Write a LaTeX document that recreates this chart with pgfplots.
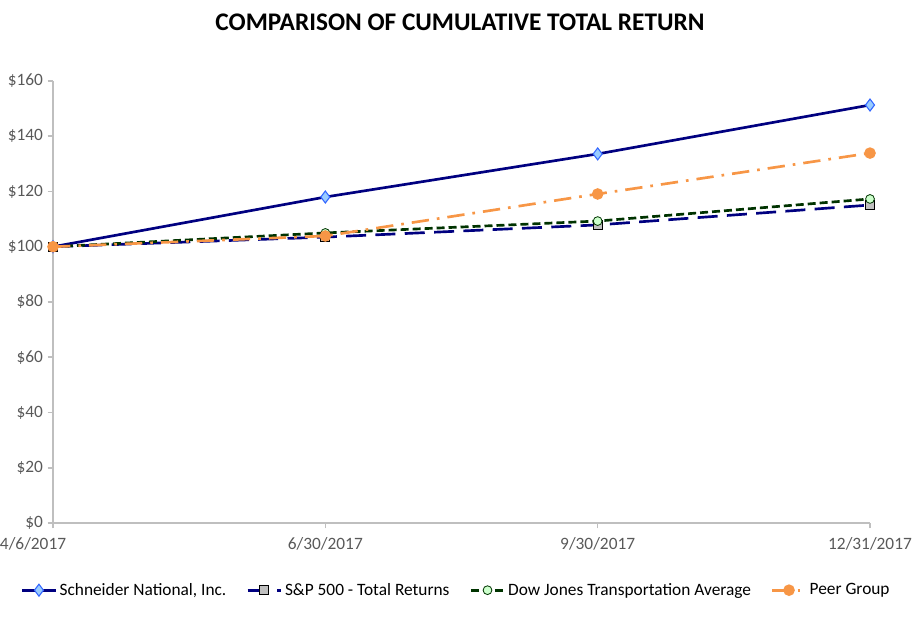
\documentclass[border=0pt]{standalone}
\usepackage{fontspec}
\setmainfont{Carlito}
\usepackage{pgfplots}
\pgfplotsset{compat=1.18}

\definecolor{navy}{HTML}{000080}
\definecolor{dkgreen}{HTML}{003300}
\definecolor{peer}{HTML}{F79646}
\definecolor{axgray}{HTML}{BFBFBF}
\definecolor{txtgray}{HTML}{595959}
\definecolor{diafill}{HTML}{99CCFF}
\definecolor{diaedge}{HTML}{3366FF}
\definecolor{sqfill}{HTML}{C0C0C0}
\definecolor{circfill}{HTML}{CCFFCC}

\begin{document}
\begin{tikzpicture}
\begin{axis}[
  at={(0,0)}, anchor=south west,
  scale only axis,
  width=612.75pt, height=331.5pt,
  xmin=0, xmax=3, ymin=0, ymax=160,
  xtick={0,1,2,3},
  xticklabels={\makebox[0pt][l]{\hspace*{-39.75pt}4/6/2017},6/30/2017,9/30/2017,12/31/2017},
  ytick={0,20,...,160},
  yticklabels={\$0,\$20,\$40,\$60,\$80,\$100,\$120,\$140,\$160},
  axis lines*=left,
  axis line style={-, axgray, line width=1.6pt},
  tick style={axgray, line width=1.2pt},
  major tick length=4pt,
  tick align=outside,
  ticklabel style={font=\fontsize{13}{15}\selectfont, text=txtgray},
  xticklabel style={yshift=-3pt},
  clip=false,
  legend columns=4,
  legend style={at={(0.494,-0.152)}, anchor=center, draw=none,
    font=\fontsize{13}{15}\selectfont,
    /tikz/every even column/.append style={column sep=13pt}},
  legend image code/.code={
    \draw[mark repeat=2,mark phase=2] plot coordinates {(0pt,0pt) (12.5pt,0pt) (25pt,0pt)};},
]
\addplot[navy, line width=2pt, mark=diamond*, mark size=4.5pt,
  mark options={solid, fill=diafill, draw=diaedge, line width=0.8pt}]
  coordinates {(0,100) (1,118) (2,133.6) (3,151.3)};
\addlegendentry{Schneider National, Inc.}
\addplot[navy, line width=2pt, dash pattern=on 15pt off 7pt, mark=square*, mark size=3.3pt,
  mark options={solid, fill=sqfill, draw=black, line width=0.8pt}]
  coordinates {(0,100) (1,103.5) (2,107.9) (3,115.1)};
\addlegendentry{S\&P 500 - Total Returns}
\addplot[dkgreen, line width=2pt, dash pattern=on 6pt off 3pt, mark=*, mark size=3.3pt,
  mark options={solid, fill=circfill, draw=dkgreen, line width=0.6pt}]
  coordinates {(0,100) (1,105) (2,109.3) (3,117.3)};
\addlegendentry{Dow Jones Transportation Average}
\addplot[peer, line width=2pt, dash pattern=on 13pt off 6pt on 2pt off 6pt, mark=*, mark size=3.3pt,
  mark options={solid, fill=peer, draw=peer}]
  coordinates {(0,100) (1,103.9) (2,119.1) (3,133.9)};
\addlegendentry{Peer Group}
\end{axis}
\node[font=\fontsize{19}{22}\selectfont\bfseries] at (305.25pt,375.75pt) {COMPARISON OF CUMULATIVE TOTAL RETURN};
\useasboundingbox (-39.75pt,-72.75pt) rectangle (650.25pt,392.25pt);
\end{tikzpicture}
\end{document}
